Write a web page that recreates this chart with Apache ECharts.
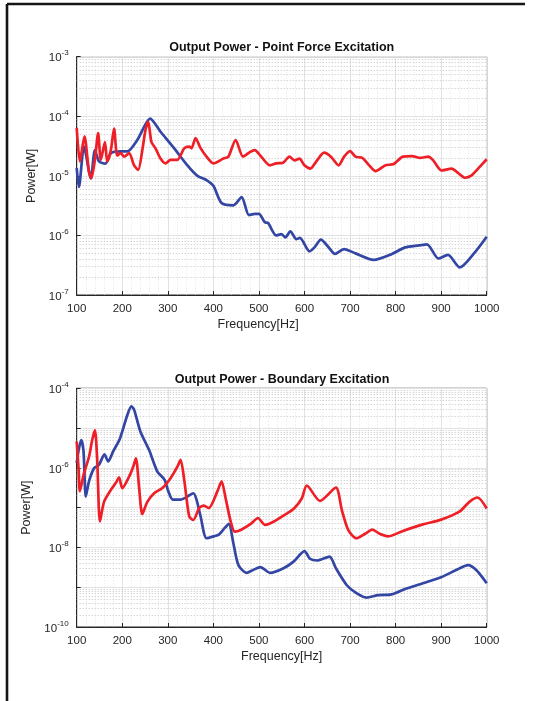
<!DOCTYPE html>
<html>
<head>
<meta charset="utf-8">
<script src="https://cdn.jsdelivr.net/npm/echarts@6/dist/echarts.min.js"></script>
<style>
  html, body { margin: 0; padding: 0; background: #fff; }
  #chart { width: 533px; height: 701px; }
</style>
</head>
<body>
<div id="chart"></div>
<script>
// Output power spectra, 100–1000 Hz

// Point force excitation
const pointBlueFreq = [100,105,116,131,140,149,163,175,197,211,233,250,261,284,314,343,365,385,400,418,444,462,478,491,500,513,520,538,549,558,569,582,590,611,622,636,651,667,687,712,752,792,821,851,869,894,915,941,974,1000];
const pointBluePower = [1.35e-5,6.5e-6,3.1e-5,9.1e-6,2.7e-5,1.74e-5,1.6e-5,2.4e-5,2.57e-5,2.57e-5,4.0e-5,7.1e-5,9.1e-5,5.5e-5,2.9e-5,1.5e-5,1.0e-5,8.5e-6,6.8e-6,3.5e-6,3.2e-6,4.4e-6,2.2e-6,2.3e-6,2.3e-6,1.66e-6,1.62e-6,1.0e-6,1.05e-6,9.3e-7,1.17e-6,8.7e-7,9.1e-7,5.4e-7,6.3e-7,8.5e-7,6.6e-7,4.9e-7,5.9e-7,5.0e-7,3.9e-7,4.9e-7,6.3e-7,6.8e-7,7.1e-7,4.1e-7,4.7e-7,2.9e-7,5.2e-7,9.5e-7];

const pointRedFreq = [100,107,117,127,132,140,147,153,162,167,175,182,189,197,204,215,226,235,244,251,257,264,273,284,295,306,321,336,347,352,361,371,385,400,422,433,449,465,480,491,505,524,538,553,567,578,589,600,613,625,643,658,675,687,700,712,727,742,756,778,796,816,836,854,872,883,901,923,937,952,967,981,1000];
const pointRedPower = [6.4e-5,1.74e-5,4.6e-5,1.17e-5,9.1e-6,1.86e-5,5.2e-5,1.86e-5,3.7e-5,1.74e-5,2.7e-5,6.2e-5,2.2e-5,2.4e-5,2.1e-5,2.4e-5,1.5e-5,1.26e-5,2.7e-5,5.9e-5,8.1e-5,3.7e-5,2.9e-5,1.95e-5,1.62e-5,1.86e-5,1.86e-5,2.9e-5,3.1e-5,2.9e-5,4.3e-5,3.0e-5,2.1e-5,1.62e-5,1.95e-5,2.1e-5,4.0e-5,2.1e-5,2.5e-5,2.7e-5,2.1e-5,1.5e-5,1.62e-5,1.66e-5,2.1e-5,1.82e-5,1.95e-5,1.5e-5,1.32e-5,1.7e-5,2.45e-5,2.1e-5,1.5e-5,2.1e-5,2.6e-5,2.1e-5,2.0e-5,1.5e-5,1.2e-5,1.5e-5,1.58e-5,2.1e-5,2.15e-5,2.0e-5,2.1e-5,1.8e-5,1.23e-5,1.32e-5,1.12e-5,9.3e-6,1.02e-5,1.32e-5,1.9e-5];

// Boundary excitation
const boundaryBlueFreq = [100,105,110,115,120,127,138,149,161,169,180,195,211,220,226,240,259,277,293,301,311,328,343,356,363,372,385,401,412,425,434,444,455,473,487,503,525,554,576,600,612,628,655,669,693,714,736,762,791,824,860,900,933,959,977,1000];
const boundaryBluePower = [1.32e-6,3.1e-6,5.0e-6,2.6e-6,1.9e-7,4.6e-7,9.8e-7,1.2e-6,2.2e-6,1.45e-6,2.6e-6,5.5e-6,2.1e-5,3.5e-5,2.9e-5,8.1e-6,2.8e-6,8.1e-7,5.0e-7,2.6e-7,1.6e-7,1.6e-7,1.9e-7,2.3e-7,1.6e-7,6.0e-8,1.7e-8,1.9e-8,2.1e-8,3.1e-8,3.9e-8,1.26e-8,3.6e-9,2.3e-9,2.7e-9,3.2e-9,2.3e-9,3.0e-9,4.4e-9,8.1e-9,5.2e-9,4.7e-9,5.9e-9,3.0e-9,1.12e-9,7.1e-10,5.5e-10,6.3e-10,6.6e-10,9.3e-10,1.26e-9,1.78e-9,2.7e-9,3.6e-9,2.7e-9,1.26e-9];

const boundaryRedFreq = [100,104,107,115,127,134,140,145,151,160,175,186,193,200,215,224,230,237,244,255,270,288,306,321,328,336,347,356,369,379,390,409,418,427,438,447,460,482,498,513,533,562,577,594,605,634,669,682,696,714,733,749,765,784,816,860,900,940,962,980,1000];
const boundaryRedPower = [4.6e-6,9.8e-7,2.6e-7,6.6e-7,1.9e-6,5.0e-6,8.9e-6,1.6e-6,4.5e-8,1.4e-7,2.8e-7,4.2e-7,5.8e-7,3.1e-7,6.0e-7,1.07e-6,1.74e-6,3.2e-7,6.9e-8,1.4e-7,2.3e-7,3.1e-7,5.5e-7,1.07e-6,1.6e-6,5.0e-7,6.0e-8,4.9e-8,9.8e-8,1.12e-7,9.8e-8,2.6e-7,4.6e-7,1.7e-7,4.5e-8,2.5e-8,2.75e-8,3.9e-8,5.5e-8,3.7e-8,4.5e-8,7.2e-8,9.5e-8,1.7e-7,3.6e-7,1.48e-7,3.2e-7,8.7e-8,2.75e-8,1.7e-8,2.2e-8,2.8e-8,2.2e-8,1.9e-8,2.6e-8,3.8e-8,5.0e-8,7.9e-8,1.4e-7,1.8e-7,9.5e-8];

const freqTicks = [100, 200, 300, 400, 500, 600, 700, 800, 900, 1000];
const pointDecades = [-7, -6, -5, -4, -3];
const boundaryDecades = [-10, -9, -8, -7, -6, -5, -4];

const BLUE = '#3446a4';
const RED = '#ee1f27';
const TEXT = '#262626';
const FONT = '"Liberation Sans", Arial, Helvetica, sans-serif';

function pairs(xs, ys) { return xs.map((x, i) => [x, ys[i]]); }

// dotted minor grid at 2..9 within each decade
function minorLines(decades) {
  const out = [];
  for (let i = 0; i < decades.length - 1; i++) {
    for (let k = 2; k <= 9; k++) out.push({ yAxis: k * Math.pow(10, decades[i]) });
  }
  return out;
}

function supLabel(v, everyOther) {
  const e = Math.round(Math.log10(v));
  if (everyOther && e % 2 !== 0) return '';
  return '{b|10}{s|' + e + '}';
}

const labelRich = {
  b: { fontSize: 11.5, color: TEXT, fontFamily: FONT, verticalAlign: 'bottom', lineHeight: 12 },
  s: { fontSize: 8, color: TEXT, fontFamily: FONT, verticalAlign: 'bottom', padding: [0, 0, 7, 0] }
};

function xAxisFor(gridIndex, namePad) {
  return {
    type: 'value', gridIndex, min: freqTicks[0], max: freqTicks[freqTicks.length - 1], interval: 100,
    name: 'Frequency[Hz]', nameLocation: 'middle', nameGap: 23,
    nameTextStyle: { fontSize: 12.5, color: TEXT, fontFamily: FONT, padding: namePad },
    axisLine: { lineStyle: { color: '#262626', width: 1 } },
    axisTick: { inside: true, length: 4, lineStyle: { color: '#262626' } },
    axisLabel: { fontSize: 11.5, color: TEXT, fontFamily: FONT, margin: 8, formatter: v => String(v) },
    splitLine: { show: true, lineStyle: { color: '#e2e2e2', width: 1 } },
    minorTick: { show: false, splitNumber: 5 },
    minorSplitLine: { show: true, lineStyle: { color: '#e6e6e6', type: [1, 2], width: 1 } }
  };
}

function yAxisFor(gridIndex, decades, everyOther, gap) {
  return {
    type: 'log', logBase: 10, gridIndex,
    min: Math.pow(10, decades[0]), max: Math.pow(10, decades[decades.length - 1]),
    splitNumber: decades.length - 1,
    name: 'Power[W]', nameLocation: 'middle', nameGap: gap,
    nameTextStyle: { fontSize: 12.5, color: TEXT, fontFamily: FONT },
    axisLine: { lineStyle: { color: '#262626', width: 1 } },
    axisTick: { inside: true, length: 4, lineStyle: { color: '#262626' } },
    axisLabel: { margin: 8, formatter: v => supLabel(v, everyOther), rich: labelRich },
    splitLine: { show: true, lineStyle: { color: '#e2e2e2', width: 1 } }
  };
}

function lineSeries(name, xi, yi, freq, power, color, minor) {
  const s = {
    name, type: 'line', xAxisIndex: xi, yAxisIndex: yi,
    data: pairs(freq, power), showSymbol: false, smooth: 0.25,
    lineStyle: { color, width: 2.7 }, itemStyle: { color }, z: 5
  };
  if (minor) {
    s.markLine = {
      silent: true, symbol: 'none', animation: false, precision: 20,
      label: { show: false },
      lineStyle: { color: '#c4c4c4', type: [1, 2], width: 1 },
      data: minor
    };
  }
  return s;
}

const chart = echarts.init(document.getElementById('chart'), null, { renderer: 'canvas' });
chart.setOption({
  animation: false,
  backgroundColor: '#fff',
  title: [
    { text: 'Output Power - Point Force Excitation', left: 281.7, top: 41, textAlign: 'center', padding: 0,
      textStyle: { fontSize: 12.5, fontWeight: 'bold', color: '#111', fontFamily: FONT, lineHeight: 13 } },
    { text: 'Output Power - Boundary Excitation', left: 282, top: 373, textAlign: 'center', padding: 0,
      textStyle: { fontSize: 12.5, fontWeight: 'bold', color: '#111', fontFamily: FONT, lineHeight: 13 } }
  ],
  grid: [
    { left: 76.7, top: 56.7, width: 410, height: 238.3, show: true, borderColor: '#262626', borderWidth: 1, backgroundColor: '#fff' },
    { left: 76.7, top: 388.3, width: 410, height: 238.7, show: true, borderColor: '#262626', borderWidth: 1, backgroundColor: '#fff' }
  ],
  xAxis: [xAxisFor(0, [0, 47, 0, 0]), xAxisFor(1, [0, 0, 0, 0])],
  yAxis: [yAxisFor(0, pointDecades, false, 31), yAxisFor(1, boundaryDecades, true, 36)],
  series: [
    lineSeries('point-blue', 0, 0, pointBlueFreq, pointBluePower, BLUE, minorLines(pointDecades)),
    lineSeries('point-red', 0, 0, pointRedFreq, pointRedPower, RED, null),
    lineSeries('boundary-blue', 1, 1, boundaryBlueFreq, boundaryBluePower, BLUE, minorLines(boundaryDecades)),
    lineSeries('boundary-red', 1, 1, boundaryRedFreq, boundaryRedPower, RED, null)
  ],
  graphic: [
    { type: 'line', shape: { x1: 7, y1: 4, x2: 525, y2: 4 }, style: { stroke: '#151515', lineWidth: 2.6 }, z: 100 },
    { type: 'line', shape: { x1: 7, y1: 4, x2: 7, y2: 701 }, style: { stroke: '#151515', lineWidth: 2.6 }, z: 100 }
  ]
});
</script>
</body>
</html>
